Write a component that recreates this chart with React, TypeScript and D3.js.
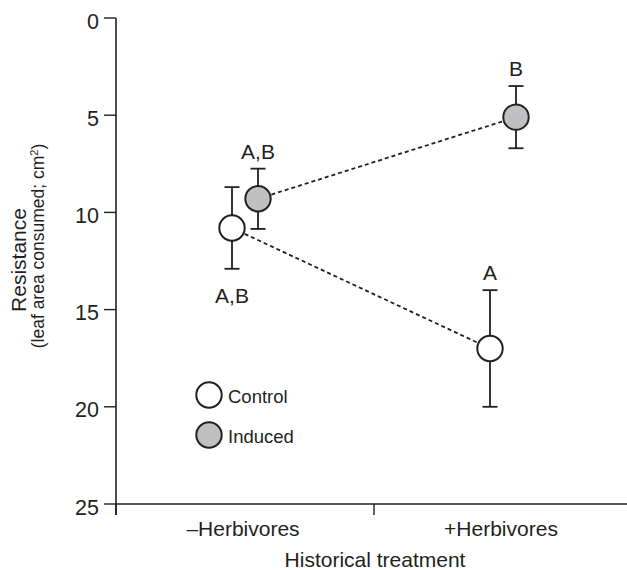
import React from "react";
import * as d3 from "d3";

const categories = ["\u2013Herbivores", "+Herbivores"];
const seriesNames = ["Control", "Induced"];
const controlMeans = [10.8, 17.0];
const controlErrors = [2.1, 3.0];
const inducedMeans = [9.3, 5.1];
const inducedErrors = [1.55, 1.6];
const controlLetters = ["A,B", "A"];
const controlLetterSide = ["below", "above"];
const inducedLetters = ["A,B", "B"];
const inducedLetterSide = ["above", "above"];
const yTicks = [0, 5, 10, 15, 20, 25];

const W = 627;
const H = 570;
const ink = "#231f20";
const grayFill = "#bfc0c2";
const font = "'Liberation Sans', Arial, Helvetica, sans-serif";

const series = [
  { name: seriesNames[0], means: controlMeans, errs: controlErrors, letters: controlLetters, sides: controlLetterSide, fill: "#ffffff" },
  { name: seriesNames[1], means: inducedMeans, errs: inducedErrors, letters: inducedLetters, sides: inducedLetterSide, fill: grayFill },
];

export default function App() {
  const axisX = 116;
  const axisY = 504;

  const y = d3.scaleLinear().domain([0, 25]).range([18, axisY]);
  const x = d3.scaleBand().domain(categories).range([axisX, 632]).padding(0);
  const dodge = d3.scaleBand().domain(seriesNames).range([-26, 26]);
  const r = 12.7;
  const cap = 7.5;

  const px = (sName: string, i: number) =>
    (x(categories[i]) as number) + x.bandwidth() / 2 + (dodge(sName) as number) + dodge.bandwidth() / 2;

  return (
    <svg width={W} height={H} style={{ position: "absolute", left: 0, top: 0 }} fontFamily={font}>
      <rect width={W} height={H} fill="#fff" />

      {/* y axis */}
      <line x1={axisX} x2={axisX} y1={y(0)} y2={axisY + 11} stroke={ink} strokeWidth={1.6} />
      {yTicks.map((t) => (
        <g key={t}>
          <line x1={axisX - 12} x2={axisX} y1={y(t)} y2={y(t)} stroke={ink} strokeWidth={1.4} />
          <text x={99} y={y(t) + 10.5} textAnchor="end" fontSize={21.5} fill={ink}>
            {t}
          </text>
        </g>
      ))}

      {/* x axis */}
      <line x1={axisX} x2={W} y1={axisY} y2={axisY} stroke={ink} strokeWidth={1.6} />
      {categories.map((c) => (
        <g key={c}>
          <line x1={x(c)} x2={x(c)} y1={axisY} y2={axisY + 11} stroke={ink} strokeWidth={1.4} />
          <text x={(x(c) as number) + x.bandwidth() / 2 - 2} y={536} textAnchor="middle" fontSize={21} fill={ink}>
            {c}
          </text>
        </g>
      ))}
      <text x={375} y={567} textAnchor="middle" fontSize={21} fill={ink}>
        Historical treatment
      </text>

      {/* y label */}
      <text transform="translate(26,260) rotate(-90)" textAnchor="middle" fontSize={21} fill={ink}>
        Resistance
      </text>
      <text transform="translate(44,246) rotate(-90)" textAnchor="middle" fontSize={17.5} fill={ink}>
        (leaf area consumed; cm
        <tspan dy={-6} fontSize={11}>2</tspan>
        <tspan dy={6}>)</tspan>
      </text>

      {/* dashed connectors */}
      {series.map((s) => (
        <path
          key={s.name + "line"}
          d={
            d3
              .line<number>()
              .x((_, i) => px(s.name, i))
              .y((d) => y(d))(s.means) as string
          }
          fill="none"
          stroke={ink}
          strokeWidth={1.8}
          strokeDasharray="4,3"
        />
      ))}

      {/* error bars, points, letters */}
      {series.map((s) =>
        s.means.map((m, i) => {
          const cx = px(s.name, i);
          const top = y(m - s.errs[i]);
          const bot = y(m + s.errs[i]);
          const ly = s.sides[i] === "above" ? top - 10 : bot + 34;
          return (
            <g key={s.name + i}>
              <line x1={cx} x2={cx} y1={top} y2={bot} stroke={ink} strokeWidth={1.8} />
              <line x1={cx - cap} x2={cx + cap} y1={top} y2={top} stroke={ink} strokeWidth={1.8} />
              <line x1={cx - cap} x2={cx + cap} y1={bot} y2={bot} stroke={ink} strokeWidth={1.8} />
              <circle cx={cx} cy={y(m)} r={r} fill={s.fill} stroke={ink} strokeWidth={2} />
              <text x={cx} y={ly} textAnchor="middle" fontSize={21} fill={ink}>
                {s.letters[i]}
              </text>
            </g>
          );
        })
      )}

      {/* legend */}
      {series.map((s, i) => (
        <g key={s.name + "leg"} transform={`translate(209,${395 + i * 40})`}>
          <circle r={r} fill={s.fill} stroke={ink} strokeWidth={2} />
          <text x={19} y={7.5} fontSize={18.5} fill={ink}>
            {s.name}
          </text>
        </g>
      ))}
    </svg>
  );
}
